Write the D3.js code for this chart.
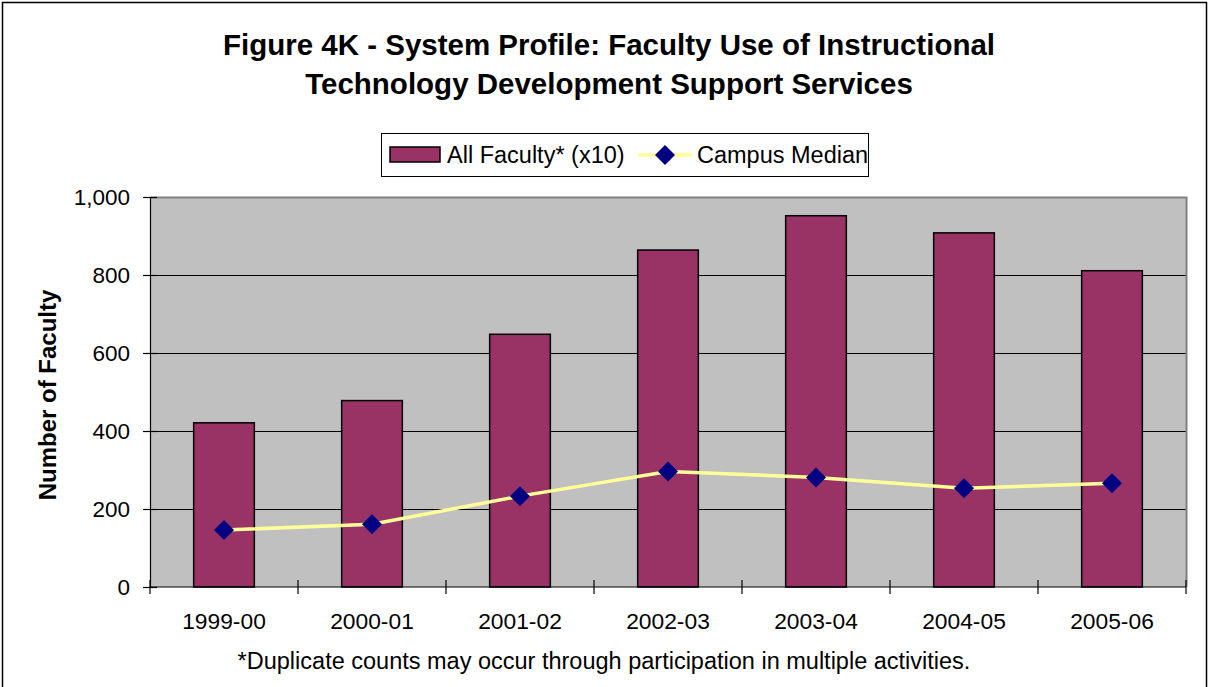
<!DOCTYPE html>
<html>
<head>
<meta charset="utf-8">
<style>
    body { margin: 0; background: #fff; }
    text { font-family: Arial, "Liberation Sans", sans-serif; }
</style>
</head>
<body>
    <script src="https://d3js.org/d3.v7.min.js" charset="utf-8"></script>
    <div id="graph"></div>
    <script>
        // data
        const years = ["1999-00", "2000-01", "2001-02", "2002-03", "2003-04", "2004-05", "2005-06"];
        const allFaculty = [421, 478, 648, 864, 952, 908, 811];
        const campusMedian = [146, 161, 233, 296, 281, 253, 266];
        const yTicks = [0, 200, 400, 600, 800, 1000];

        const W = 1209, H = 687;
        const plot = {left: 150, right: 1186, top: 197, bottom: 587};

        const svg = d3.select("#graph")
            .append("svg")
            .attr("width", W)
            .attr("height", H);

        // outer frame
        svg.append("rect")
            .attr("x", 2.5).attr("y", 2.5)
            .attr("width", W - 5).attr("height", H)
            .attr("fill", "#fff")
            .attr("stroke", "#000").attr("stroke-width", 1.5);

        // title
        const title = svg.append("text")
            .attr("text-anchor", "middle")
            .attr("font-size", "29.5px")
            .attr("font-weight", "bold");
        title.append("tspan").attr("x", 609).attr("y", 55).text("Figure 4K - System Profile: Faculty Use of Instructional");
        title.append("tspan").attr("x", 609).attr("y", 94).text("Technology Development Support Services");

        const x = d3.scaleBand()
            .domain(years)
            .range([plot.left, plot.right])
            .paddingInner(0.59)
            .paddingOuter(0.295);

        const y = d3.scaleLinear()
            .domain([0, 1000])
            .range([plot.bottom, plot.top]);

        // plot background
        svg.append("rect")
            .attr("x", plot.left).attr("y", plot.top)
            .attr("width", plot.right - plot.left)
            .attr("height", plot.bottom - plot.top)
            .attr("fill", "#c0c0c0");

        // gridlines
        svg.append("g")
            .selectAll("line")
            .data(yTicks.filter(d => d > 0 && d < 1000))
            .enter()
            .append("line")
            .attr("x1", plot.left).attr("x2", plot.right)
            .attr("y1", d => y(d) + 0.5).attr("y2", d => y(d) + 0.5)
            .attr("stroke", "#000").attr("stroke-width", 1);

        // plot border (gray)
        svg.append("path")
            .attr("d", `M${plot.left},${plot.top + 0.5}H${plot.right + 0.5}V${plot.bottom}`)
            .attr("fill", "none")
            .attr("stroke", "#808080").attr("stroke-width", 2);

        // bars
        svg.append("g")
            .selectAll("rect")
            .data(allFaculty)
            .enter()
            .append("rect")
            .attr("x", (d, i) => x(years[i]))
            .attr("y", d => y(d))
            .attr("width", x.bandwidth())
            .attr("height", d => y(0) - y(d))
            .attr("fill", "#993366")
            .attr("stroke", "#000").attr("stroke-width", 1.5);

        // Y axis
        const yAxis = svg.append("g")
            .attr("transform", `translate(${plot.left},0)`)
            .call(d3.axisLeft(y).tickValues(yTicks).tickSize(7).tickPadding(13).tickFormat(d3.format(",")));
        yAxis.select(".domain").attr("stroke", "#000").attr("stroke-width", 1.2);
        yAxis.selectAll(".tick line").attr("x2", 7).attr("x1", -7).attr("stroke-width", 1.2);
        yAxis.selectAll(".tick text").attr("font-size", "22.5px").attr("fill", "#000")
            .attr("font-family", "Arial, 'Liberation Sans', sans-serif");

        // X axis line and ticks at category boundaries
        const xg = svg.append("g");
        xg.append("line")
            .attr("x1", plot.left).attr("x2", plot.right)
            .attr("y1", plot.bottom).attr("y2", plot.bottom)
            .attr("stroke", "#000").attr("stroke-width", 1.2);
        const step = x.step();
        xg.selectAll(".xt")
            .data(d3.range(years.length + 1))
            .enter()
            .append("line")
            .attr("x1", i => plot.left + i * step).attr("x2", i => plot.left + i * step)
            .attr("y1", plot.bottom - 7).attr("y2", plot.bottom + 7)
            .attr("stroke", "#000").attr("stroke-width", 1.2);
        xg.selectAll(".xl")
            .data(years)
            .enter()
            .append("text")
            .attr("x", d => x(d) + x.bandwidth() / 2)
            .attr("y", 629)
            .attr("text-anchor", "middle")
            .attr("font-size", "22.8px")
            .text(d => d);

        // Campus median line
        const line = d3.line()
            .x((d, i) => x(years[i]) + x.bandwidth() / 2)
            .y(d => y(d));
        svg.append("path")
            .datum(campusMedian)
            .attr("d", line)
            .attr("fill", "none")
            .attr("stroke", "#ffff99").attr("stroke-width", 3.5);

        const diamond = d3.symbol().type(d3.symbolSquare).size(200);
        svg.append("g")
            .selectAll("path")
            .data(campusMedian)
            .enter()
            .append("path")
            .attr("d", diamond)
            .attr("transform", (d, i) => `translate(${x(years[i]) + x.bandwidth() / 2},${y(d)}) rotate(45)`)
            .attr("fill", "#000080");

        // Y axis label
        svg.append("text")
            .attr("text-anchor", "middle")
            .attr("transform", "translate(56,395) rotate(-90)")
            .attr("font-size", "24px")
            .attr("font-weight", "bold")
            .text("Number of Faculty");

        // footnote
        svg.append("text")
            .attr("x", 604).attr("y", 669)
            .attr("text-anchor", "middle")
            .attr("font-size", "23.5px")
            .text("*Duplicate counts may occur through participation in multiple activities.");

        // legend
        const lg = svg.append("g");
        lg.append("rect")
            .attr("x", 381.5).attr("y", 133.5)
            .attr("width", 487).attr("height", 43)
            .attr("fill", "#fff")
            .attr("stroke", "#000").attr("stroke-width", 1);
        lg.append("rect")
            .attr("x", 390).attr("y", 147)
            .attr("width", 50).attr("height", 15)
            .attr("fill", "#993366")
            .attr("stroke", "#000").attr("stroke-width", 1.5);
        lg.append("text")
            .attr("x", 447).attr("y", 163)
            .attr("font-size", "23.5px")
            .text("All Faculty* (x10)");
        lg.append("line")
            .attr("x1", 638).attr("x2", 692)
            .attr("y1", 155).attr("y2", 155)
            .attr("stroke", "#ffff99").attr("stroke-width", 3.5);
        lg.append("path")
            .attr("d", diamond)
            .attr("transform", "translate(665,155) rotate(45)")
            .attr("fill", "#000080");
        lg.append("text")
            .attr("x", 697).attr("y", 163)
            .attr("font-size", "23.5px")
            .text("Campus Median");
    </script>
</body>
</html>
